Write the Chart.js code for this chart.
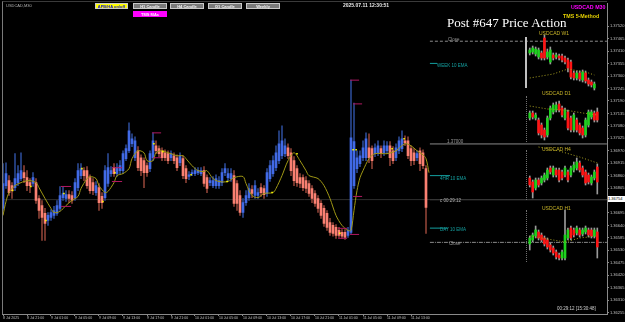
<!DOCTYPE html>
<html>
<head>
<meta charset="utf-8">
<script src="https://cdn.jsdelivr.net/npm/chart.js@4.4.0/dist/chart.umd.min.js"></script>
<style>
  body { margin: 0; background: #000; width: 625px; height: 322px; overflow: hidden; position: relative; font-family: "Liberation Sans", sans-serif; }
  canvas { position: absolute; }
  .t { position: absolute; white-space: nowrap; line-height: 1; }
  .btn { position: absolute; height: 6px; font-size: 4px; font-weight: bold; text-align: center; line-height: 6px; border: 1px solid #c8c8c8; box-sizing: border-box; }
  .vsep { position: absolute; border-left: 1px dotted #707070; width: 0; }
</style>
</head>
<body>
<canvas id="main" width="625" height="322" style="left:0;top:0"></canvas>
<canvas id="w1" width="74" height="58" style="left:528px;top:34px"></canvas>
<canvas id="d1" width="74" height="46" style="left:528px;top:98px"></canvas>
<canvas id="h4" width="74" height="60" style="left:528px;top:144px"></canvas>
<canvas id="h1" width="74" height="60" style="left:528px;top:204px"></canvas>

<!-- marco -->
<div style="position:absolute;left:2px;top:1px;width:605px;height:313px;border-left:1px solid #7a7a7a;border-top:1px solid #3a3a3a;box-sizing:border-box"></div>

<!-- cabecera -->
<div class="t" style="left:6px;top:4px;font-size:4px;color:#b0b0b0">USDCAD,M30</div>
<div class="btn" style="left:95px;top:3px;width:33px;background:#ffff00;color:#1010d0">APB/HA on/off</div>
<div class="btn" style="left:133px;top:3px;width:34px;background:#7a7a7a;color:#f0f0f0">H1 Candle</div>
<div class="btn" style="left:170px;top:3px;width:34px;background:#7a7a7a;color:#f0f0f0">H4 Candle</div>
<div class="btn" style="left:208px;top:3px;width:34px;background:#7a7a7a;color:#f0f0f0">D1 Candle</div>
<div class="btn" style="left:246px;top:3px;width:34px;background:#7a7a7a;color:#f0f0f0">Weekly</div>
<div class="btn" style="left:133px;top:11px;width:34px;background:#ff00ff;color:#ffffff;border-color:#ff00ff">TMS MAs</div>
<div class="t" style="left:343px;top:3px;font-size:5px;font-weight:bold;color:#e8e8e8">2025.07.11 12:30:51</div>
<div class="t" style="left:571px;top:5px;font-size:5.3px;font-weight:bold;color:#ff00ff">USDCAD M30</div>
<div class="t" style="left:563px;top:14px;font-size:5.3px;font-weight:bold;color:#e6d200">TMS 5-Method</div>
<div class="t" style="left:447px;top:16px;font-size:13px;font-family:'Liberation Serif',serif;color:#ffffff">Post #647 Price Action</div>

<!-- rótulos de los recuadros -->
<div class="t" style="left:539px;top:31px;font-size:5px;color:#c8b428">USDCAD W1</div>
<div class="t" style="left:542px;top:90.5px;font-size:5px;color:#c8b428">USDCAD D1</div>
<div class="t" style="left:542px;top:147px;font-size:5px;color:#c8b428">USDCAD H4</div>
<div class="t" style="left:542px;top:205.5px;font-size:5px;color:#c8b428">USDCAD H1</div>
<div style="position:absolute;left:525px;top:37px;width:2px;height:51px;background:#c0c0c0"></div>
<div class="vsep" style="left:526px;top:96px;height:46px"></div>
<div class="vsep" style="left:526px;top:150px;height:50px"></div>
<div class="vsep" style="left:526px;top:210px;height:52px"></div>

<!-- etiquetas de líneas -->
<div class="t" style="left:448px;top:38px;font-size:4.5px;color:#9a9a9a">Close</div>
<div class="t" style="left:447px;top:140px;font-size:4.5px;color:#9a9a9a">1.37000</div>
<div class="t" style="left:440px;top:199px;font-size:4.5px;color:#b0b0b0">c 00:29:12</div>
<div class="t" style="left:449px;top:241.5px;font-size:4.5px;color:#9a9a9a">Close</div>
<div class="t" style="left:437px;top:64px;font-size:4.5px;color:#14a0a0">WEEK 10 EMA</div>
<div class="t" style="left:440px;top:176.5px;font-size:4.5px;color:#14a0a0">4HR 10 EMA</div>
<div class="t" style="left:440px;top:228px;font-size:4.5px;color:#14a0a0">DAY 10 EMA</div>
<div class="t" style="left:557px;top:307px;font-size:4.5px;color:#d0d0d0">00:29:12 [15:30:48]</div>
<div class="t" style="left:608px;top:195.5px;width:17px;height:6px;font-size:4px;line-height:6px;background:#ffffff;color:#000">1.36754</div>

<script>
// precios en puntos sobre 1.36000 (1 punto = 0.00001)
const BASE = 1.36;

// velas M30, de 8 Jul 17:00 a 11 Jul 15:30
const opens = [715,816,838,816,807,829,847,873,851,829, 825,829,759,728,693,662,675,684,693,715,
  763,759,776,772,763,807,860,882,882,851, 829,785,807,768,763,825,869,895,869,882,
  882,935,970,1001,939,970,939,926,904,891, 939,992,979,970,961,957,939,948,939,917,
  935,891,856,869,869,873,869,882,851,829, 816,816,816,829,873,851,847,860,825,772,
  697,741,763,798,772,772,807,803,781,847, 869,895,926,948,957,983,961,926,891,851,
  851,838,825,803,781,759,737,715,693,653, 640,631,618,609,609,596,609,816,891,913,
  939,939,983,979,957,961,979,961,970,992, 970,939,970,979,1014,1014,979,961,939,970,
  961,891];
const highs = [913,917,860,829,957,904,961,904,882,847, 873,847,772,750,715,697,710,724,750,812,
  812,794,794,790,847,913,913,895,900,864, 847,834,825,785,904,957,900,913,913,926,
  970,996,1093,1045,1032,988,952,939,917,970, 1049,1014,992,983,974,970,970,961,952,961,
  948,904,878,886,895,895,895,900,864,851, 856,864,856,891,913,891,891,882,838,794,
  759,794,825,816,838,803,825,816,891,926, 948,992,1058,1080,1023,1001,979,944,904,869,
  864,856,838,816,794,772,750,728,706,671, 653,644,631,622,622,631,1282,1181,970,970,
  1014,1049,1045,992,1001,1014,992,1014,1010,1010, 988,1001,1032,1058,1036,1032,992,979,970,983,
  974,904];
const lows = [706,803,772,759,794,816,838,829,794,785, 812,737,671,574,574,640,662,671,684,706,
  750,746,741,737,750,794,847,838,803,781, 776,772,706,715,750,812,856,856,856,869,
  869,926,961,988,926,882,860,807,856,878, 926,957,944,926,926,913,926,913,882,904,
  847,829,842,860,860,864,860,812,785,816, 807,803,803,816,860,838,834,724,706,684,
  675,728,750,763,759,759,768,759,768,834, 856,882,913,935,944,935,860,816,812,807,
  794,785,768,741,724,697,671,636,618,596, 592,583,587,583,578,587,600,803,873,900,
  926,926,917,891,944,948,939,948,957,904, 913,926,957,966,992,935,904,908,926,882,
  891,605];
const closes = [825,869,785,794,847,869,882,851,816,816, 851,750,706,675,649,684,697,706,728,772,
  781,776,759,750,829,882,891,860,816,794, 794,816,741,741,882,895,882,869,895,904,
  957,979,1058,1023,1014,895,882,873,873,957, 1014,970,957,939,939,926,957,926,895,948,
  860,847,864,873,882,882,882,825,803,838, 838,847,838,873,891,869,869,737,737,697,
  741,772,803,781,816,785,785,776,873,904, 926,961,1001,1014,992,948,882,838,829,825,
  807,803,781,759,737,715,684,649,631,609, 605,596,596,592,587,618,1027,1010,939,948,
  983,1023,939,926,983,992,957,992,992,939, 926,983,1014,1023,1005,948,926,926,957,913,
  904,719];

// media móvil (línea oliva), leída por tramos
const emaIdx = [0,1,2,4,6,7,9,11,12,14,16,17,19,21,23,25,26,28,29,31,32,34,35,37,38,40,42,43,45,47,
  48,50,51,53,55,56,58,60,61,63,65,67,68,70,72,75,77,80,81,83,85,87,90,91,93,95,97,99,101,102,
  105,107,109,111,113,115,116,117,118,119,120,122,124,128,131,134,136,138,140,141,142];
const emaVal = [684,746,785,816,829,834,838,829,807,759,715,697,702,728,750,768,803,847,856,847,816,785,790,829,860,869,891,935,970,961,
  926,926,961,970,961,957,948,948,935,904,882,878,882,847,834,834,851,856,825,772,763,781,785,803,860,926,961,926,882,860,
  847,816,759,684,640,618,618,706,794,851,882,935,957,957,970,1001,992,970,952,935,873];

// marcas TMS (tramos magenta)
const markStart = [19.3,19.3,36.3,36.3,49.7,50,111.7,111.7,115.7,116.7,116.7,115.7];
const markEnd   = [22.7,22.7,39.7,39.7,52.7,52.7,114.7,114.7,118.7,119.7,119.7,118.7];
const markLevel = [812,724,895,834,1049,939,627,583,1282,1177,768,600];

// puntos amarillos
const dotIdx = [3.2,9.3,14.3,20.3,26.3,33.3,37.3,50.3,53.3,62.7,74.7,89.7,98,112.3,116.7,117.7,129.7,133.7];
const dotVal = [794,812,662,781,891,746,873,1001,966,864,834,785,957,605,974,974,979,1023];

// EMAs de marcos mayores (cian): semana, 4h, día
const tagLevel = [1356, 860, 628];
const tagEnd = [144.7, 149, 148.3];

// niveles horizontales
const closeTop = 1454;
const roundLevel = 1000;
const closeBottom = 565;
const bid = 754;

// ejes
const yTicks = [1520,1465,1410,1355,1300,1245,1190,1135,1080,1025,970,915,860,805,750,695,640,585,530,475,420,365,310,255];
const xTickIdx = [0,8,16,24,32,40,48,56,64,72,80,88,96,104,112,120,128,136];
const timeLabels = ['8 Jul 2025','8 Jul 21:00','9 Jul 01:00','9 Jul 05:00','9 Jul 09:00','9 Jul 13:00','9 Jul 17:00','9 Jul 21:00',
  '10 Jul 01:00','10 Jul 05:00','10 Jul 09:00','10 Jul 13:00','10 Jul 17:00','10 Jul 21:00','11 Jul 01:00','11 Jul 05:00','11 Jul 09:00','11 Jul 13:00'];

// recuadros de marcos mayores (niveles relativos, sin eje)
const w1Open  = [39,40,38,35,39,54,35,30,37,35,36,36,34,32,30,19,14,19,12,19,12,10,4];
const w1High  = [44,46,45,44,41,57,43,45,39,39,38,38,36,34,32,21,21,21,22,21,14,12,10];
const w1Low   = [37,38,36,33,32,32,33,28,32,33,32,30,28,20,13,12,12,11,10,9,6,5,2];
const w1Close = [42,44,43,42,34,34,40,42,34,37,34,32,30,24,15,14,19,13,20,11,8,7,8];
const w1Ema = [[0,14],[8,18],[13,23],[19,20],[22,17]];

const d1Open  = [26,31,26,24,19,14,9,26,32,34,40,36,26,32,26,14,24,19,16,9,19,27,31,32];
const d1High  = [33,33,31,26,21,16,28,38,41,42,43,38,36,34,28,31,26,21,18,26,34,34,33,36];
const d1Low   = [24,25,24,9,6,4,7,24,30,32,32,27,24,14,12,12,12,9,6,7,17,25,22,22];
const d1Close = [31,27,29,11,9,7,26,36,39,39,34,29,34,16,14,29,14,11,9,24,32,32,24,24];
const d1Ema = [[0,38],[6,35],[12,34],[18,31],[23,29]];

const h4Open  = [26,22,16,24,21,24,26,36,29,34,34,32,29,32,29,34,36,41,36,32,29,21,26,37];
const h4High  = [28,24,26,26,28,31,36,38,38,36,36,34,38,34,38,42,46,43,38,34,31,29,34,40];
const h4Low   = [17,6,14,17,19,22,24,30,27,27,22,24,27,22,27,32,34,32,27,19,20,19,24,10];
const h4Close = [19,12,24,19,26,29,34,32,36,29,24,26,36,24,36,39,42,34,29,21,22,27,32,22];
const h4Ema = [[3,57],[10,53],[17,47],[23,41]];

const h1Open  = [20,24,28,32,29,26,24,19,16,12,9,6,6,26,36,34,31,34,30,32,34,34,28,32];
const h1High  = [28,31,38,34,31,28,26,21,18,14,11,14,54,36,38,36,38,36,36,38,36,36,36,36];
const h1Low   = [14,22,26,24,22,18,15,12,9,5,4,4,4,24,24,27,29,27,28,30,27,26,26,6];
const h1Close = [26,29,34,26,24,20,17,14,11,7,6,12,29,34,26,29,36,29,34,36,29,28,34,17];
const h1Ema = [[0,28],[8,24],[12,22],[17,26],[23,28]];

const UP = '#416ae6', DOWN = '#fa8072';
const UP_WICK = '#2a4890', DOWN_WICK = '#8a4034';

function segment(x1, x2, v) {
    return [{ x: x1, y: v }, { x: x2, y: v }];
}

function drawMain() {
    const bodies = opens.map((o, i) => ({ x: i, y: [o, closes[i]] }));
    const wicks = lows.map((l, i) => ({ x: i, y: [l, highs[i]] }));
    const isUp = opens.map((o, i) => closes[i] >= o);

    // tramos magenta separados por huecos
    const marks = [];
    markStart.forEach((s, k) => {
        marks.push(...segment(s, markEnd[k], markLevel[k]));
        marks.push({ x: markEnd[k] + 0.1, y: null });
    });
    const tags = [];
    tagLevel.forEach((v, k) => {
        tags.push(...segment(142.3, tagEnd[k], v));
        tags.push({ x: tagEnd[k] + 0.1, y: null });
    });

    const flat = (data, color, dash, order) => ({
        type: 'line', data, borderColor: color, borderWidth: 1, borderDash: dash || [],
        pointRadius: 0, spanGaps: false, order
    });

    new Chart(document.getElementById('main'), {
        type: 'bar',
        data: {
            datasets: [
                { data: wicks, backgroundColor: isUp.map(u => u ? UP_WICK : DOWN_WICK), barThickness: 1, grouped: false, order: 5 },
                { data: bodies, backgroundColor: isUp.map(u => u ? UP : DOWN), barThickness: 2, grouped: false, order: 4 },
                flat(segment(-0.3, 201.3, bid), '#2e2e2e', [], 6),
                flat(segment(142.3, 201.3, bid), '#9a9a9a', [], 6),
                flat(segment(142.3, 201.3, closeTop), '#8a8a8a', [3, 2], 6),
                flat(segment(142.3, 201.3, roundLevel), '#8a8a8a', [], 6),
                flat(segment(142.3, 201.3, closeBottom), '#8a8a8a', [4, 1, 1, 1], 6),
                flat(tags, '#14a0a0', [], 3),
                {
                    type: 'line', data: emaIdx.map((x, k) => ({ x, y: emaVal[k] })),
                    borderColor: '#a09814', borderWidth: 1, pointRadius: 0, tension: 0.3, order: 2
                },
                flat(marks, '#b01860', [], 1),
                {
                    type: 'scatter', data: dotIdx.map((x, k) => ({ x, y: dotVal[k] })),
                    backgroundColor: '#ffff00', borderWidth: 0, pointStyle: 'rect', pointRadius: 1.1, order: 0
                }
            ]
        },
        options: {
            responsive: false,
            animation: false,
            devicePixelRatio: 1,
            layout: { padding: { left: 2, top: 2, right: 0, bottom: 0 }, autoPadding: false },
            plugins: { legend: { display: false }, tooltip: { enabled: false } },
            scales: {
                x: {
                    type: 'linear', min: -1 / 3, max: 201 + 1 / 3, offset: false,
                    afterFit: s => { s.height = 8; },
                    afterBuildTicks: s => { s.ticks = xTickIdx.map(v => ({ value: v })); },
                    ticks: {
                        autoSkip: false, maxRotation: 0, align: 'start', padding: 0,
                        color: '#c0c0c0', font: { family: 'Liberation Sans', size: 3.5 },
                        callback: (v, i) => timeLabels[i]
                    },
                    grid: { drawOnChartArea: false, offset: false, tickLength: 2, color: '#8a8a8a' },
                    border: { color: '#8a8a8a' }
                },
                y: {
                    position: 'right', min: 248.4, max: 1621.2,
                    afterFit: s => { s.width = 18; },
                    afterBuildTicks: s => { s.ticks = yTicks.map(v => ({ value: v })); },
                    ticks: {
                        padding: 1, color: '#c0c0c0', font: { family: 'Liberation Sans', size: 4 },
                        callback: v => (BASE + v / 100000).toFixed(5)
                    },
                    grid: { drawOnChartArea: false, tickLength: 2, color: '#8a8a8a' },
                    border: { color: '#8a8a8a' }
                }
            }
        }
    });
}

function drawInset(id, o, h, l, c, ema) {
    const canvas = document.getElementById(id);
    const isUp = o.map((v, j) => c[j] >= v);
    new Chart(canvas, {
        type: 'bar',
        data: {
            datasets: [
                { data: l.map((v, j) => ({ x: j, y: [v, h[j]] })), backgroundColor: '#9a9a9a', barThickness: 1, grouped: false, order: 3 },
                { data: o.map((v, j) => ({ x: j, y: [v, c[j]] })), backgroundColor: isUp.map(u => u ? '#1ed21e' : '#ff1414'), barThickness: 2, grouped: false, order: 2 },
                {
                    type: 'line', data: ema.map(p => ({ x: p[0], y: p[1] })),
                    borderColor: '#a8a020', borderWidth: 1, borderDash: [1, 2], pointRadius: 0, order: 1
                }
            ]
        },
        options: {
            responsive: false,
            animation: false,
            devicePixelRatio: 1,
            layout: { padding: 0, autoPadding: false },
            plugins: { legend: { display: false }, tooltip: { enabled: false } },
            scales: {
                x: { type: 'linear', display: false, offset: false, min: -0.6, max: 24.6 },
                y: { display: false, min: 0, max: canvas.height }
            }
        }
    });
}

drawMain();
drawInset('w1', w1Open, w1High, w1Low, w1Close, w1Ema);
drawInset('d1', d1Open, d1High, d1Low, d1Close, d1Ema);
drawInset('h4', h4Open, h4High, h4Low, h4Close, h4Ema);
drawInset('h1', h1Open, h1High, h1Low, h1Close, h1Ema);
</script>
</body>
</html>
